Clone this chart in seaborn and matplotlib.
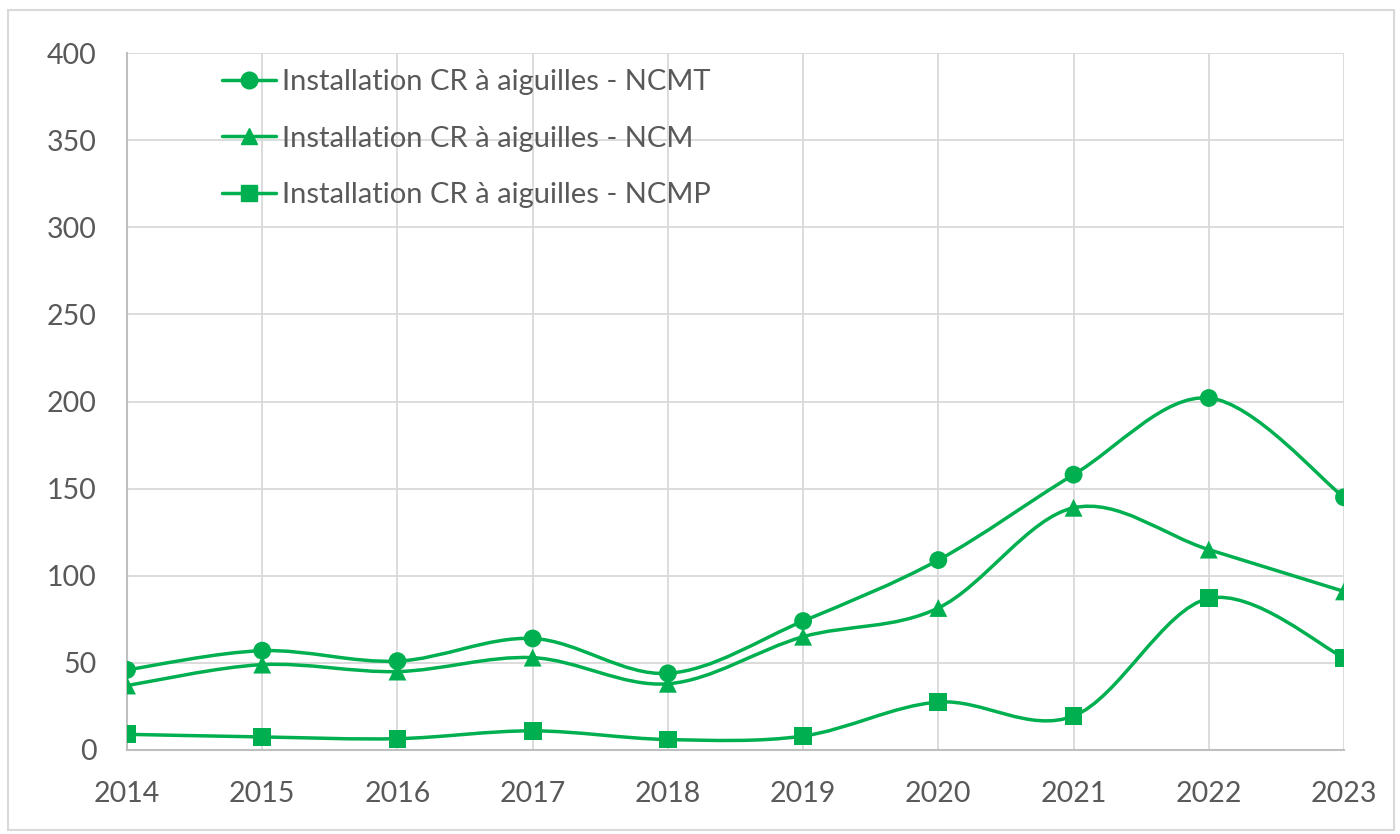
import numpy as np
import pandas as pd
import matplotlib
matplotlib.use("Agg")
import matplotlib.pyplot as plt
from matplotlib.path import Path
from matplotlib.patches import PathPatch, Rectangle
from matplotlib.lines import Line2D
import seaborn as sns

years = [2014, 2015, 2016, 2017, 2018, 2019, 2020, 2021, 2022, 2023]
ncmt = [46, 57, 51, 64, 44, 74, 109, 158, 202, 145]
ncm = [37, 49, 45, 53, 38, 65, 81.5, 139, 115, 91]
ncmp = [9, 7.5, 6.5, 11, 6, 8, 27.5, 19.5, 87, 53]
labels = ["Installation CR à aiguilles - NCMT",
          "Installation CR à aiguilles - NCM",
          "Installation CR à aiguilles - NCMP"]
markers = ["o", "^", "s"]
y_ticks = [0, 50, 100, 150, 200, 250, 300, 350, 400]

GREEN = "#00B050"
TEXT = "#595959"
GRID = "#D9D9D9"

sns.set_theme(style="white")
plt.rcParams["font.family"] = ["Lato", "DejaVu Sans"]

df = pd.DataFrame({
    "year": years * 3,
    "value": ncmt + ncm + ncmp,
    "series": [labels[0]] * 10 + [labels[1]] * 10 + [labels[2]] * 10,
})

fig = plt.figure(figsize=(14, 8.34), dpi=100)
ax = fig.add_axes([127 / 1400, 1 - 750 / 834, (1344 - 127) / 1400, (750 - 53) / 834])

fig.patches.append(Rectangle((8 / 1400, 4 / 834), 1386 / 1400, (824 - 4) / 834,
                             transform=fig.transFigure, fill=False,
                             edgecolor=GRID, linewidth=1.5, zorder=0))


def smooth_path(xs, ys):
    pts = np.column_stack([xs, ys]).astype(float)
    n = len(pts)
    verts = [pts[0]]
    codes = [Path.MOVETO]
    for i in range(n - 1):
        p0 = pts[i - 1] if i > 0 else pts[i]
        p1 = pts[i]
        p2 = pts[i + 1]
        p3 = pts[i + 2] if i + 2 < n else pts[i + 1]
        c1 = p1 + (p2 - p0) / 6.0
        c2 = p2 - (p3 - p1) / 6.0
        verts += [c1, c2, p2]
        codes += [Path.CURVE4] * 3
    return Path(verts, codes)


for lab, vals in zip(labels, [ncmt, ncm, ncmp]):
    ax.add_patch(PathPatch(smooth_path(years, vals), fill=False,
                           edgecolor=GREEN, linewidth=2.5, zorder=3,
                           capstyle="round", joinstyle="round"))

sns.scatterplot(data=df, x="year", y="value", style="series", markers=markers,
                color=GREEN, s=165, edgecolor=GREEN, linewidth=0, ax=ax,
                zorder=4, legend=False)

ax.set_xlim(2014, 2023)
ax.set_ylim(0, 400)
ax.set_xticks(years)
ax.set_yticks(y_ticks)
ax.set_xticklabels([str(y) for y in years])
ax.set_xlabel("")
ax.set_ylabel("")
ax.grid(True, color=GRID, linewidth=1.3)
ax.set_axisbelow(True)
for side in ["top", "right"]:
    ax.spines[side].set_visible(False)
for side in ["left", "bottom"]:
    ax.spines[side].set_color("#BFBFBF")
    ax.spines[side].set_linewidth(1.5)
ax.tick_params(axis="both", length=0, labelsize=20.5, colors=TEXT)
ax.tick_params(axis="x", pad=22)
ax.tick_params(axis="y", pad=22)
for t in ax.get_xticklabels() + ax.get_yticklabels():
    t.set_color(TEXT)

handles = [Line2D([0], [0], color=GREEN, linewidth=2.5, marker=m,
                  markersize=12 if m != "s" else 11, markerfacecolor=GREEN,
                  markeredgecolor=GREEN) for m in markers]
leg = ax.legend(handles, labels, loc="upper left",
                bbox_to_anchor=((222 - 127) / 1217, 1 - 16 / 697),
                frameon=False, fontsize=21, handlelength=1.85,
                handletextpad=0.2, labelspacing=1.05, borderaxespad=0,
                borderpad=0)
for t in leg.get_texts():
    t.set_color(TEXT)

fig.savefig("out.png", dpi=100)
